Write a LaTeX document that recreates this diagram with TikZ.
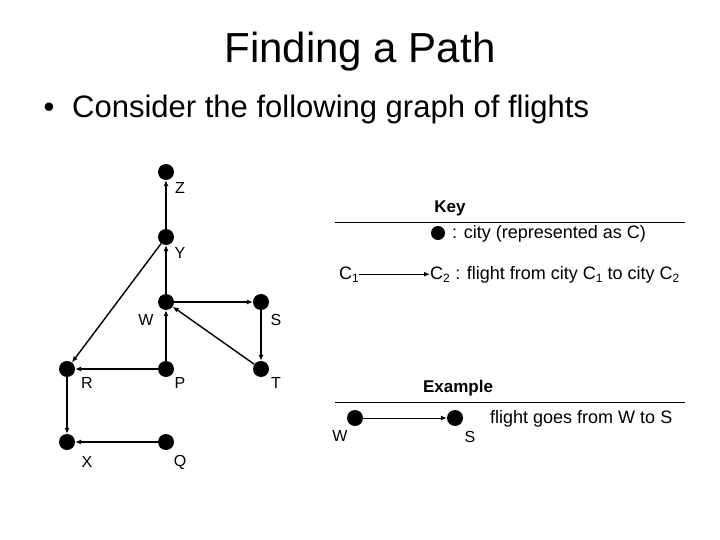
\documentclass[tikz,border=0pt]{standalone}
\usepackage{fontspec}
\setmainfont{Liberation Sans}
\usetikzlibrary{arrows.meta, positioning}
\newcommand{\lowsub}[1]{\raisebox{-3pt}{\fontsize{12}{14}\selectfont #1}}
\tikzset{
  city/.style={circle, fill=black, minimum size=16pt, inner sep=0pt},
  keycity/.style={circle, fill=black, minimum size=14pt, inner sep=0pt},
  flight/.style={-{Latex[length=6pt,width=5pt]}, line width=1.4pt},
  lbl/.style={font=\fontsize{16}{18}\selectfont, inner sep=0pt},
  keytxt/.style={font=\fontsize{18}{20}\selectfont, inner sep=0pt, anchor=base west},
  hdr/.style={font=\fontsize{17}{20}\selectfont\bfseries, inner sep=0pt, anchor=base},
  rule/.style={line width=0.8pt}
}
\begin{document}
\begin{tikzpicture}[x=1pt, y=-1pt]
\useasboundingbox (0,0) rectangle (720,540);
% Title and bullet
\node[font=\fontsize{42}{48}\selectfont, anchor=base, inner sep=0pt] (title) at (360,63) {Finding a Path};
\node[font=\fontsize{31}{36}\selectfont, anchor=base, inner sep=0pt] (dot) at (49,118) {\textbullet};
\node[font=\fontsize{31}{36}\selectfont, anchor=base west, inner sep=0pt] (intro) at (72,118) {Consider the following graph of flights};

% Cities
\node[city] (Z) at (166,172) {};
\node[city] (Y) at (166,237) {};
\node[city] (W) at (166,302) {};
\node[city] (S) at (261,302) {};
\node[city] (R) at (67,369) {};
\node[city] (P) at (166,369) {};
\node[city] (T) at (261,369) {};
\node[city] (X) at (67,442) {};
\node[city] (Q) at (166,442) {};

% City names
\node[lbl] (Zl) at (180,188) {Z};
\node[lbl] (Yl) at (180,253) {Y};
\node[lbl] (Wl) at (146,320) {W};
\node[lbl] (Sl) at (276,320) {S};
\node[lbl] (Rl) at (87,383) {R};
\node[lbl] (Pl) at (180,383) {P};
\node[lbl] (Tl) at (276,383) {T};
\node[lbl] (Xl) at (87,462) {X};
\node[lbl] (Ql) at (180,462) {Q};

% Flights
\draw[flight] (Y) -- (Z);
\draw[flight] (W) -- (Y);
\draw[flight] (P) -- (W);
\draw[flight] (W) -- (S);
\draw[flight] (S) -- (T);
\draw[flight] (T) -- (W);
\draw[flight] (Y) -- (R);
\draw[flight] (P) -- (R);
\draw[flight] (R) -- (X);
\draw[flight] (Q) -- (X);

% Key
\node[hdr] (key) at (450,213) {Key};
\draw[rule] (335,222) -- (685,222);
\node[keycity] (kc) at (438,233) {};
\node[keytxt] (kct) at (452,239) {: city (represented as C)};
\node[keytxt, anchor=base] (c1) at (349,279) {C\lowsub{1}};
\node[keytxt, anchor=base west] (c2) at (430,279) {C\lowsub{2}};
\node[keytxt] (kft) at (c2.base east) {\ : flight from city C\lowsub{1} to city C\lowsub{2}};
\draw[flight, line width=1pt] (c1) -- (c2);

% Example
\node[hdr] (ex) at (458,392) {Example};
\draw[rule] (335,402) -- (685,402);
\node[city] (eW) at (355,418) {};
\node[city] (eS) at (455,418) {};
\node[lbl] (eWl) at (340,436) {W};
\node[lbl] (eSl) at (470,437) {S};
\draw[flight, line width=1pt] (eW) -- (eS);
\node[keytxt] (ext) at (490,423) {flight goes from W to S};
\end{tikzpicture}
\end{document}
